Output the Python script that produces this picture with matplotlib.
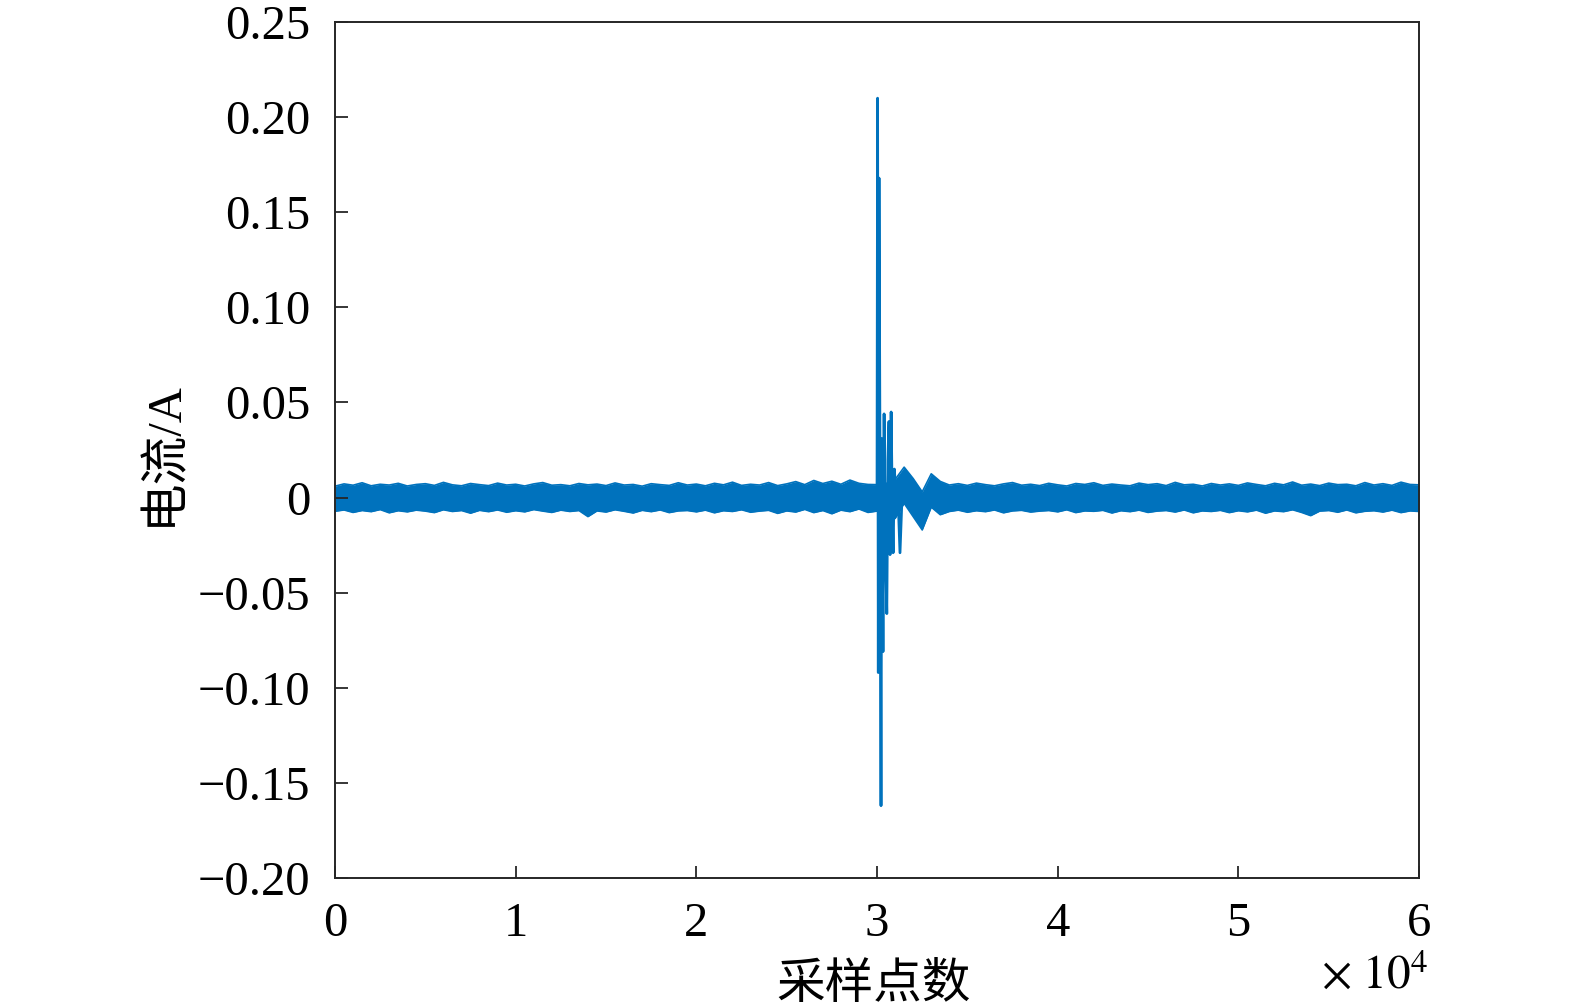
import numpy as np
import matplotlib
matplotlib.use("Agg")
import matplotlib.pyplot as plt

# ---------------- data ----------------
# noise band envelope, sampled every 500 points from 0 to 60000
env_x = list(range(0, 60001, 500))
env_upper = [0.0060, 0.0072, 0.0065, 0.0078, 0.0062, 0.0070, 0.0066, 0.0075, 0.0061, 0.0069,
             0.0073, 0.0064, 0.0080, 0.0067, 0.0062, 0.0074, 0.0068, 0.0063, 0.0076, 0.0066,
             0.0070, 0.0061, 0.0072, 0.0079, 0.0065, 0.0068, 0.0062, 0.0074, 0.0067, 0.0071,
             0.0063, 0.0077, 0.0066, 0.0069, 0.0060, 0.0073, 0.0068, 0.0064, 0.0078, 0.0066,
             0.0071, 0.0062, 0.0075, 0.0067, 0.0081, 0.0064, 0.0070, 0.0066, 0.0079, 0.0063,
             0.0072, 0.0084, 0.0068, 0.0090, 0.0074, 0.0086, 0.0070, 0.0092, 0.0075, 0.0069,
             0.0068, 0.0074, 0.0095, 0.0160, 0.0100, 0.0030, 0.0125, 0.0085, 0.0066, 0.0073,
             0.0064, 0.0076, 0.0068, 0.0062, 0.0072, 0.0079, 0.0065, 0.0070, 0.0063, 0.0075,
             0.0067, 0.0061, 0.0074, 0.0069, 0.0078, 0.0064, 0.0071, 0.0066, 0.0062, 0.0076,
             0.0068, 0.0073, 0.0063, 0.0080, 0.0067, 0.0070, 0.0061, 0.0074, 0.0066, 0.0072,
             0.0064, 0.0077, 0.0069, 0.0062, 0.0075, 0.0067, 0.0082, 0.0065, 0.0071, 0.0063,
             0.0076, 0.0068, 0.0070, 0.0062, 0.0079, 0.0066, 0.0073, 0.0064, 0.0081, 0.0069,
             0.0067]
env_lower = [-0.0072, -0.0065, -0.0078, -0.0068, -0.0074, -0.0063, -0.0080, -0.0069, -0.0075, -0.0066,
             -0.0071, -0.0079, -0.0064, -0.0073, -0.0068, -0.0082, -0.0067, -0.0074, -0.0065, -0.0077,
             -0.0069, -0.0075, -0.0063, -0.0071, -0.0078, -0.0066, -0.0073, -0.0068, -0.0100, -0.0070,
             -0.0076, -0.0064, -0.0072, -0.0081, -0.0067, -0.0074, -0.0065, -0.0079, -0.0070, -0.0068,
             -0.0075, -0.0066, -0.0080, -0.0069, -0.0073, -0.0064, -0.0077, -0.0071, -0.0067, -0.0083,
             -0.0070, -0.0076, -0.0062, -0.0079, -0.0068, -0.0085, -0.0066, -0.0074, -0.0060, -0.0078,
             -0.0071, -0.0066, -0.0110, -0.0030, -0.0100, -0.0170, -0.0050, -0.0090, -0.0073, -0.0066,
             -0.0077, -0.0069, -0.0074, -0.0065, -0.0080, -0.0070, -0.0067, -0.0076, -0.0071, -0.0068,
             -0.0075, -0.0064, -0.0079, -0.0070, -0.0072, -0.0067, -0.0081, -0.0069, -0.0074, -0.0066,
             -0.0078, -0.0071, -0.0068, -0.0076, -0.0065, -0.0080, -0.0070, -0.0073, -0.0067, -0.0079,
             -0.0069, -0.0075, -0.0066, -0.0082, -0.0070, -0.0074, -0.0064, -0.0078, -0.0095, -0.0071,
             -0.0068, -0.0077, -0.0065, -0.0080, -0.0072, -0.0069, -0.0076, -0.0066, -0.0079, -0.0070,
             -0.0073]

# transient around sample 30000
spike_x = [29950, 30000, 30030, 30070, 30110, 30160, 30220, 30260, 30330, 30390,
           30450, 30540, 30600, 30660, 30720, 30780, 30850, 30890, 30960, 31050,
           31150, 31270, 31400]
spike_y = [0.000, 0.002, 0.210, -0.092, 0.168, 0.030, -0.162, 0.031, -0.081, 0.044,
           -0.020, -0.061, 0.020, 0.040, -0.030, 0.045, -0.010, -0.029, 0.015, 0.000,
           0.004, -0.029, 0.005]

xticks = [0, 10000, 20000, 30000, 40000, 50000, 60000]
xtick_labels = ["0", "1", "2", "3", "4", "5", "6"]
yticks = [-0.20, -0.15, -0.10, -0.05, 0.0, 0.05, 0.10, 0.15, 0.20, 0.25]
ytick_labels = ["\u22120.20", "\u22120.15", "\u22120.10", "\u22120.05", "0",
                "0.05", "0.10", "0.15", "0.20", "0.25"]
xlabel = "采样点数"
ylabel = "电流/A"
exponent_label = r"$\times\ 10^{4}$"

# ---------------- figure ----------------
plt.rcParams["font.family"] = ["Liberation Serif", "Noto Sans CJK SC"]
plt.rcParams["mathtext.fontset"] = "stix"

color = "#0072BD"
fig = plt.figure(figsize=(15.75, 10.05), dpi=100)
ax = fig.add_axes([0.2127, 0.1264, 0.6883, 0.8516])

ax.fill_between(env_x, env_lower, env_upper, color=color, linewidth=0)
ax.plot(env_x, env_upper, color=color, lw=1.2)
ax.plot(env_x, env_lower, color=color, lw=1.2)
ax.plot(spike_x, spike_y, color=color, lw=2.0)

ax.set_xlim(0, 60000)
ax.set_ylim(-0.20, 0.25)
ax.set_xticks(xticks)
ax.set_xticklabels(xtick_labels)
ax.set_yticks(yticks)
ax.set_yticklabels(ytick_labels)

ax.tick_params(axis="both", direction="in", length=9, width=1.3, colors="#262626",
               labelsize=35, labelcolor="black")
ax.tick_params(axis="y", pad=18)
ax.tick_params(axis="x", pad=17)
for s in ax.spines.values():
    s.set_color("#262626")
    s.set_linewidth(1.4)

ax.set_xlabel(xlabel, fontsize=35, family=["Noto Sans CJK SC", "Liberation Serif"])
ax.xaxis.set_label_coords(0.497, -0.095)
ax.set_ylabel(ylabel, fontsize=35, family=["Liberation Serif", "Noto Sans CJK SC"])
ax.yaxis.set_label_coords(-0.137, 0.496)

ax.text(1.008, -0.13, exponent_label, transform=ax.transAxes, ha="right",
        va="baseline", fontsize=34)

fig.savefig("out.png", dpi=100)
